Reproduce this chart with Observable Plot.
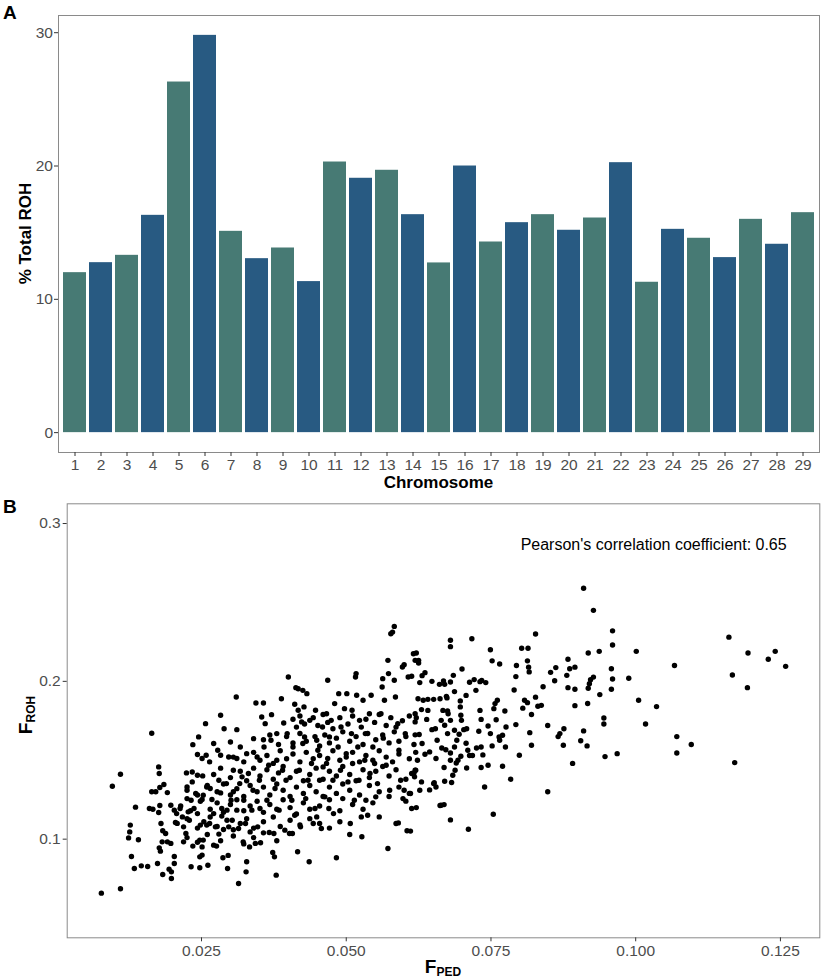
<!DOCTYPE html>
<html><head><meta charset="utf-8">
<script src="https://cdn.jsdelivr.net/npm/d3@7"></script>
<script src="https://cdn.jsdelivr.net/npm/@observablehq/plot@0.6"></script>
<style>
body{margin:0;background:#fff}
#wrap{position:relative;width:823px;height:979px}
#wrap svg{position:absolute;left:0;overflow:visible}
</style>
</head><body><div id="wrap"></div>
<script>
// ---- Panel A data ----
const chromosomes = [1,2,3,4,5,6,7,8,9,10,11,12,13,14,15,16,17,18,19,20,21,22,23,24,25,26,27,28,29];
const pctTotalROH = [12.0,12.75,13.3,16.3,26.3,29.8,15.1,13.05,13.85,11.33,20.3,19.08,19.68,16.35,12.73,20.0,14.3,15.75,16.35,15.18,16.1,20.25,11.28,15.25,14.58,13.13,16.0,14.13,16.5];
const yTicksA = [0,10,20,30];

// ---- Panel B data: [F_PED, F_ROH] ----
const pointsRight = [[0.091,0.259],[0.0927,0.245],[0.0827,0.230],[0.096,0.232],[0.096,0.223],[0.0717,0.227],[0.068,0.226],[0.068,0.222],[0.0749,0.220],[0.0752,0.213],[0.0765,0.211],[0.0803,0.221],[0.0814,0.221],[0.0813,0.213],[0.0815,0.209],[0.0816,0.206],[0.0794,0.210],[0.0793,0.203],[0.079,0.1945],[0.0883,0.214],[0.0895,0.209],[0.0886,0.208],[0.0918,0.218],[0.0937,0.219],[0.1001,0.219],[0.1161,0.228],[0.1194,0.218],[0.1229,0.214],[0.1241,0.219],[0.1259,0.2095],[0.1067,0.210],[0.1167,0.204],[0.1193,0.196],[0.1171,0.1485],[0.1096,0.160],[0.1071,0.165],[0.1071,0.1546],[0.1036,0.184],[0.1017,0.173],[0.1005,0.188],[0.0988,0.202],[0.096,0.2015],[0.0958,0.208],[0.0958,0.195],[0.0938,0.1916],[0.0927,0.2027],[0.0922,0.201],[0.092,0.1985],[0.0918,0.1956],[0.0917,0.186],[0.0945,0.1768],[0.0945,0.173],[0.0947,0.1523],[0.0968,0.1542],[0.091,0.1686],[0.0905,0.1624],[0.0916,0.1591],[0.0891,0.148],[0.0875,0.1595],[0.0866,0.165],[0.0869,0.1669],[0.0876,0.170],[0.0848,0.172],[0.0848,0.130],[0.0895,0.1846],[0.0883,0.196],[0.0895,0.195],[0.0881,0.2038],[0.0853,0.2057],[0.0862,0.2087],[0.086,0.2004],[0.084,0.1966],[0.0827,0.19],[0.0837,0.1848],[0.0831,0.1842],[0.082,0.179],[0.0808,0.188],[0.0813,0.1865],[0.0805,0.183],[0.0793,0.1726],[0.0817,0.1675],[0.082,0.1595],[0.0799,0.1532],[0.0784,0.138],[0.077,0.1462],[0.0754,0.1158],[0.0739,0.1331],[0.0733,0.1454],[0.0745,0.1468],[0.0752,0.1591],[0.0765,0.1627],[0.0764,0.1648],[0.077,0.1658],[0.0776,0.1711],[0.0775,0.1584],[0.0774,0.1812],[0.0761,0.188],[0.0757,0.1859],[0.0755,0.1827],[0.0759,0.1757],[0.0745,0.1717],[0.0749,0.1669],[0.0733,0.1759],[0.0731,0.1816],[0.0729,0.1684],[0.0736,0.1534],[0.0733,0.1584],[0.0725,0.1578],[0.0724,0.1943],[0.0731,0.1998],[0.0741,0.1992],[0.0734,0.2006],[0.0721,0.2011],[0.0713,0.1994],[0.0707,0.1911],[0.070,0.2078],[0.0697,0.1876],[0.0697,0.1838],[0.0698,0.1785],[0.0699,0.1753],[0.0703,0.1694],[0.0708,0.170],[0.0707,0.1608],[0.071,0.1563],[0.0713,0.153],[0.0718,0.153],[0.0708,0.1451],[0.0711,0.1063],[0.068,0.1122],[0.0662,0.1213],[0.0669,0.1219],[0.0651,0.1352],[0.0655,0.1331],[0.0644,0.1312],[0.067,0.1367],[0.0669,0.1454],[0.0684,0.1405],[0.0688,0.1437],[0.069,0.1483],[0.0693,0.150],[0.0698,0.1525],[0.0687,0.1584],[0.0691,0.1627],[0.0695,0.1665],[0.0687,0.169],[0.068,0.1753],[0.0675,0.1812],[0.0676,0.1795],[0.0667,0.1816],[0.0673,0.1905],[0.0662,0.189],[0.0651,0.1886],[0.0641,0.1886],[0.0633,0.188],[0.0624,0.189],[0.063,0.1821],[0.0641,0.1816],[0.0639,0.1759],[0.0648,0.1694],[0.0654,0.170],[0.0664,0.1753],[0.067,0.1722],[0.0675,0.1669],[0.0657,0.1627],[0.0665,0.1578],[0.0672,0.1567],[0.068,0.1546],[0.068,0.150],[0.0655,0.1511],[0.0644,0.1553],[0.0636,0.1538],[0.0631,0.1606],[0.0626,0.1663],[0.0619,0.1661],[0.0621,0.177],[0.0619,0.1743],[0.0623,0.150],[0.0619,0.1437],[0.0613,0.1416],[0.0618,0.1395],[0.063,0.1363],[0.0627,0.131],[0.0621,0.120],[0.0611,0.1289],[0.0611,0.1051],[0.0603,0.1241],[0.060,0.131],[0.0652,0.1357],[0.0664,0.1215],[0.0682,0.1359],[0.0631,0.2036],[0.0636,0.2055],[0.0613,0.2032],[0.0621,0.218],[0.0625,0.2133],[0.0625,0.2116],[0.060,0.2105],[0.0648,0.200],[0.0661,0.1981],[0.0668,0.2002],[0.067,0.1981],[0.068,0.1996],[0.0685,0.2038],[0.0687,0.1935],[0.0674,0.1895],[0.0627,0.1992]];
const pointsLeft = [[0.0077,0.0658],[0.0110,0.0686],[0.0096,0.1335],[0.011,0.1411],[0.0136,0.1203],[0.0127,0.1089],[0.0126,0.1046],[0.0124,0.1008],[0.0141,0.0996],[0.0129,0.089],[0.0134,0.0814],[0.0146,0.0831],[0.0157,0.0827],[0.0164,0.1671],[0.0164,0.130],[0.0171,0.130],[0.0176,0.1458],[0.0177,0.1416],[0.0178,0.1327],[0.0185,0.1346],[0.0191,0.1295],[0.0160,0.1194],[0.0166,0.119],[0.0178,0.1213],[0.0176,0.1169],[0.018,0.1099],[0.0183,0.1053],[0.0188,0.1036],[0.0182,0.0983],[0.0191,0.0983],[0.0197,0.0973],[0.0177,0.0945],[0.0179,0.0924],[0.0174,0.0846],[0.0183,0.0776],[0.0194,0.081],[0.0198,0.0793],[0.0203,0.0846],[0.0203,0.089],[0.0198,0.0751],[0.0197,0.1215],[0.0203,0.1184],[0.0207,0.1162],[0.0205,0.1106],[0.0213,0.1194],[0.0217,0.1141],[0.0219,0.1078],[0.0219,0.0983],[0.0223,0.1036],[0.0224,0.142],[0.0225,0.1331],[0.0225,0.1257],[0.0227,0.1173],[0.0229,0.112],[0.0232,0.1247],[0.0234,0.1363],[0.0235,0.0956],[0.0232,0.0825],[0.0234,0.1426],[0.0235,0.1599],[0.0240,0.1289],[0.0237,0.1194],[0.0243,0.1162],[0.0245,0.1648],[0.0243,0.1536],[0.0243,0.1405],[0.0248,0.1089],[0.0247,0.0994],[0.0247,0.0888],[0.0247,0.0819],[0.0251,0.0899],[0.0251,0.0951],[0.0253,0.0994],[0.0251,0.1251],[0.0253,0.1279],[0.0252,0.1401],[0.0251,0.1511],[0.0257,0.1732],[0.0258,0.1532],[0.0259,0.1331],[0.0259,0.1089],[0.0261,0.0835],[0.0264,0.1099],[0.0264,0.149],[0.0265,0.1321],[0.0268,0.1251],[0.0271,0.1606],[0.0271,0.1162],[0.0271,0.0962],[0.0274,0.1078],[0.0276,0.0956],[0.028,0.1032],[0.0278,0.1563],[0.028,0.1373],[0.0283,0.1785],[0.0283,0.1532],[0.0283,0.1293],[0.0285,0.1194],[0.0285,0.1146],[0.0287,0.0882],[0.0288,0.1061],[0.0289,0.170],[0.0293,0.1352],[0.0294,0.1184],[0.0296,0.0897],[0.0297,0.1078],[0.0297,0.1521],[0.030,0.1616],[0.0295,0.0814],[0.0301,0.1247],[0.0303,0.112],[0.0305,0.130],[0.0305,0.1437],[0.0310,0.1901],[0.0311,0.1694],[0.0311,0.1511],[0.0311,0.1184],[0.0314,0.0719],[0.0314,0.1068],[0.0316,0.1352],[0.0317,0.1584],[0.032,0.1395],[0.0322,0.0983],[0.0323,0.1247],[0.0326,0.1099],[0.0327,0.0793],[0.0328,0.0857],[0.0328,0.1542],[0.0331,0.1416],[0.0333,0.0951],[0.0334,0.1046],[0.0337,0.1184],[0.0339,0.131],[0.0340,0.1637],[0.0343,0.0973],[0.0344,0.1863],[0.0346,0.1521],[0.0347,0.1078],[0.035,0.1373],[0.0351,0.1194],[0.0352,0.0977],[0.0354,0.1774],[0.0357,0.1863],[0.0358,0.1584],[0.0360,0.1732],[0.0363,0.1247],[0.0366,0.1468],[0.0367,0.1042],[0.037,0.1627],[0.0371,0.1789],[0.0373,0.0916],[0.0375,0.1036],[0.0376,0.0888],[0.0377,0.1321],[0.0379,0.0772],[0.038,0.1669],[0.038,0.150],[0.0384,0.1184],[0.0388,0.189],[0.039,0.1437],[0.0392,0.1736],[0.0394,0.1057],[0.0396,0.1373],[0.0398,0.1669],[0.040,0.2028],[0.0402,0.1036],[0.0406,0.1247],[0.0407,0.1036],[0.0408,0.1584],[0.0411,0.1855],[0.0411,0.1152],[0.0413,0.1960],[0.0416,0.092],[0.0417,0.1817],[0.0417,0.1953],[0.0419,0.1437],[0.0421,0.1078],[0.0423,0.1743],[0.0425,0.1943],[0.0425,0.1606],[0.0427,0.1838],[0.0428,0.1648],[0.0430,0.1257],[0.0432,0.1922],[0.0434,0.1373],[0.0436,0.0857],[0.0437,0.1753],[0.0440,0.1479],[0.0443,0.1099],[0.0446,0.1194],[0.0447,0.1817],[0.0449,0.1627],[0.0449,0.1141],[0.0451,0.1563],[0.0454,0.1373],[0.0457,0.1068],[0.0459,0.1711],[0.046,0.1458],[0.0463,0.1268],[0.0466,0.1795],[0.0468,0.2007],[0.0468,0.1511],[0.047,0.1194],[0.0471,0.1648],[0.0474,0.1753],[0.0477,0.1373],[0.0478,0.1162],[0.0480,0.1859],[0.0483,0.0882],[0.0486,0.1584],[0.0487,0.1922],[0.0489,0.111],[0.049,0.1437],[0.0491,0.1711],[0.0494,0.1257],[0.0497,0.1827],[0.050,0.1542],[0.0501,0.1922],[0.0503,0.1363],[0.0506,0.103],[0.0507,0.1099],[0.0509,0.1669],[0.051,0.1817],[0.0511,0.1479],[0.0514,0.1247],[0.0516,0.2028],[0.0517,0.2049],[0.0518,0.1912],[0.052,0.1584],[0.0522,0.1373],[0.0523,0.1753],[0.0526,0.1141],[0.0527,0.1015],[0.0529,0.188],[0.0532,0.150],[0.0533,0.1669],[0.0534,0.1247],[0.0537,0.1152],[0.054,0.1795],[0.0541,0.1416],[0.0543,0.1912],[0.0546,0.1584],[0.0549,0.1479],[0.0551,0.1268],[0.0554,0.1352],[0.0557,0.1141],[0.056,0.1795],[0.0562,0.1964],[0.0563,0.2017],[0.0564,0.164],[0.0566,0.188],[0.0569,0.1468],[0.0572,0.2133],[0.0572,0.0941],[0.0573,0.2049],[0.0575,0.131],[0.0577,0.2302],[0.058,0.2312],[0.0583,0.2348],[0.0583,0.2007],[0.0585,0.1901],[0.0586,0.1099],[0.0589,0.1732],[0.0590,0.1103],[0.0591,0.1563],[0.0594,0.1373],[0.0597,0.2091],[0.0598,0.1257],[0.0602,0.1669],[0.0605,0.1053],[0.0607,0.2028],[0.0613,0.1194],[0.0616,0.2175],[0.0619,0.2133],[0.0619,0.1795],[0.062,0.1437]];
const pointsCore = [[0.0408,0.176],[0.0414,0.171],[0.0420,0.178],[0.0428,0.173],[0.0443,0.177],[0.0451,0.172],[0.0460,0.179],[0.0468,0.174],[0.0477,0.170],[0.0489,0.177],[0.0503,0.173],[0.0511,0.178],[0.0526,0.171],[0.0534,0.176],[0.0549,0.174],[0.0557,0.179],[0.0569,0.172],[0.0577,0.177],[0.0586,0.171],[0.0597,0.175],[0.0609,0.178],
[0.0357,0.163],[0.0368,0.166],[0.0383,0.160],[0.0397,0.165],[0.0408,0.161],[0.0420,0.167],[0.0431,0.162],[0.0446,0.165],[0.0454,0.159],[0.0463,0.166],[0.0471,0.161],[0.0483,0.164],[0.0494,0.168],[0.0506,0.162],[0.0517,0.165],[0.0529,0.160],[0.0537,0.167],[0.0551,0.163],[0.0563,0.166],[0.0574,0.161],[0.0583,0.168],[0.0591,0.162],[0.0603,0.165],[0.0617,0.160],
[0.0305,0.152],[0.0323,0.149],[0.0340,0.155],[0.0351,0.150],[0.0363,0.153],[0.0374,0.148],[0.0386,0.156],[0.0397,0.151],[0.0408,0.154],[0.0420,0.149],[0.0431,0.155],[0.0443,0.151],[0.0454,0.153],[0.0466,0.148],[0.0477,0.156],[0.0489,0.150],[0.0500,0.152],[0.0511,0.155],[0.0523,0.149],[0.0534,0.153],[0.0546,0.150],[0.0557,0.156],[0.0569,0.152],[0.0580,0.149],[0.0591,0.154],[0.0609,0.151],[0.0620,0.155],
[0.0271,0.141],[0.0283,0.145],[0.0300,0.139],[0.0317,0.143],[0.0328,0.137],[0.0340,0.145],[0.0351,0.140],[0.0363,0.144],[0.0374,0.138],[0.0383,0.142],[0.0391,0.146],[0.0403,0.139],[0.0414,0.143],[0.0426,0.137],[0.0437,0.141],[0.0448,0.145],[0.0460,0.138],[0.0471,0.143],[0.0483,0.140],[0.0494,0.146],[0.0506,0.141],[0.0517,0.137],[0.0529,0.144],[0.0540,0.139],[0.0551,0.143],[0.0563,0.146],[0.0574,0.140],[0.0586,0.144],[0.0603,0.138],[0.0617,0.142],
[0.0225,0.131],[0.0243,0.128],[0.0260,0.134],[0.0277,0.130],[0.0288,0.135],[0.0300,0.128],[0.0311,0.132],[0.0323,0.127],[0.0334,0.134],[0.0346,0.130],[0.0357,0.133],[0.0368,0.128],[0.0380,0.135],[0.0391,0.131],[0.0403,0.127],[0.0414,0.133],[0.0426,0.129],[0.0437,0.134],[0.0448,0.130],[0.0460,0.127],[0.0471,0.133],[0.0483,0.129],[0.0494,0.135],[0.0506,0.131],[0.0523,0.128],[0.0540,0.134],[0.0557,0.130],[0.0574,0.127],[0.0591,0.133],[0.0609,0.129],
[0.0214,0.121],[0.0231,0.118],[0.0248,0.124],[0.0265,0.119],[0.0277,0.123],[0.0288,0.117],[0.0300,0.122],[0.0311,0.125],[0.0323,0.118],[0.0334,0.121],[0.0346,0.124],[0.0357,0.117],[0.0368,0.122],[0.0380,0.119],[0.0391,0.125],[0.0403,0.120],[0.0414,0.116],[0.0426,0.123],[0.0437,0.119],[0.0454,0.121],[0.0471,0.125],[0.0489,0.118],[0.0511,0.122],[0.0529,0.119],[0.0546,0.123],
[0.0208,0.110],[0.0225,0.113],[0.0243,0.107],[0.0254,0.111],[0.0265,0.114],[0.0277,0.108],[0.0294,0.112],[0.0305,0.106],[0.0317,0.110],[0.0328,0.113],[0.0340,0.107],[0.0357,0.111],[0.0374,0.114],[0.0386,0.108],[0.0403,0.112],[0.0420,0.109],[0.0437,0.113],[0.0454,0.110],[0.0471,0.107],
[0.0225,0.101],[0.0243,0.098],[0.0260,0.103],[0.0283,0.099],[0.0305,0.102],[0.0323,0.097],[0.0340,0.101],[0.0357,0.104],[0.0380,0.099]];
const xTicksB = [0.025,0.050,0.075,0.100,0.125];
const yTicksB = [0.1,0.2,0.3];
const annotation = [{x:0.1031, y:0.2863, text:"Pearson's correlation coefficient: 0.65"}];

// ---- styling ----
const FONT = "'Liberation Sans', Arial, Helvetica, sans-serif";
const GREEN = "#477a74", BLUE = "#285a82", FRAME = "#8a8a8a", TICKMARK = "#333333", TICKLAB = "#4d4d4d";
const TICKFS = 15.5;
const blank = () => "";

const wrap = document.getElementById("wrap");

// ---- Panel A ----
const chromData = chromosomes.map((c, i) => ({chr: c, pct: pctTotalROH[i], col: c % 2 ? GREEN : BLUE}));
const A = Plot.plot({
  width: 823, height: 492,
  marginLeft: 58, marginRight: 4, marginTop: 15, marginBottom: 40,
  style: {fontFamily: FONT, background: "white", overflow: "visible"},
  x: {type: "band", domain: chromosomes, paddingInner: 0.1, paddingOuter: 0.15, label: null},
  y: {domain: [-1.49, 31.29], label: null},
  color: {type: "identity"},
  marks: [
    Plot.barY(chromData, {x: "chr", y: "pct", fill: "col"}),
    Plot.frame({stroke: FRAME}),
    Plot.axisX({tickSize: 4, tickFormat: blank, label: null, stroke: TICKMARK}),
    Plot.axisY({ticks: yTicksA, tickSize: 4, tickFormat: blank, label: null, stroke: TICKMARK}),
    // tick labels, positioned by the same scales
    Plot.text(chromosomes, {x: d => d, frameAnchor: "bottom", lineAnchor: "top", dy: 6, text: d => String(d),
      fontSize: TICKFS, fill: TICKLAB, fontFamily: FONT}),
    Plot.text(yTicksA, {y: d => d, frameAnchor: "left", dx: -5.5, textAnchor: "end", text: d => String(d),
      fontSize: TICKFS, fill: TICKLAB, fontFamily: FONT})
  ]
});
A.style.top = "0px";
wrap.appendChild(A);
const sa = d3.select(A);
sa.append("text").attr("x", 3).attr("y", 19).attr("text-anchor", "start").attr("font-size", 19).attr("font-weight", "bold")
  .attr("fill", "black").attr("font-family", FONT).text("A");
sa.append("text").attr("transform", "translate(31,233.5) rotate(-90)").attr("text-anchor", "middle")
  .attr("font-size", 17).attr("font-weight", "bold").attr("fill", "black").attr("font-family", FONT).text("% Total ROH");
sa.append("text").attr("x", 438.5).attr("y", 488).attr("text-anchor", "middle")
  .attr("font-size", 17).attr("font-weight", "bold").attr("fill", "black").attr("font-family", FONT).text("Chromosome");

// ---- Panel B ----
const points = pointsLeft.concat(pointsCore, pointsRight);
const fmtX = d3.format(".3f"), fmtY = d3.format(".1f");
const B = Plot.plot({
  width: 823, height: 487,
  marginLeft: 66.7, marginRight: 3.7, marginTop: 11.3, marginBottom: 41.7,
  style: {fontFamily: FONT, background: "white", overflow: "visible"},
  x: {domain: [0.0018, 0.1318], label: null},
  y: {domain: [0.0375, 0.3125], label: null},
  marks: [
    Plot.frame({stroke: FRAME}),
    Plot.dot(points, {x: d => d[0], y: d => d[1], r: 2.7, fill: "black", stroke: null}),
    Plot.text(annotation, {x: "x", y: "y", text: "text", fill: "black", fontSize: 16, textAnchor: "middle", fontFamily: FONT}),
    Plot.axisX({ticks: xTicksB, tickSize: 4, tickFormat: blank, label: null, stroke: TICKMARK}),
    Plot.axisY({ticks: yTicksB, tickSize: 4, tickFormat: blank, label: null, stroke: TICKMARK}),
    Plot.text(xTicksB, {x: d => d, frameAnchor: "bottom", lineAnchor: "top", dy: 7.5, text: d => fmtX(d),
      fontSize: TICKFS, fill: TICKLAB, fontFamily: FONT}),
    Plot.text(yTicksB, {y: d => d, frameAnchor: "left", dx: -6.5, textAnchor: "end", text: d => fmtY(d),
      fontSize: TICKFS, fill: TICKLAB, fontFamily: FONT})
  ]
});
B.style.top = "492px";
wrap.appendChild(B);
const sb = d3.select(B);
sb.append("text").attr("x", 3).attr("y", 21).attr("text-anchor", "start").attr("font-size", 19).attr("font-weight", "bold")
  .attr("fill", "black").attr("font-family", FONT).text("B");
const yl = sb.append("text").attr("transform", "translate(32,223) rotate(-90)").attr("text-anchor", "middle")
  .attr("font-weight", "bold").attr("fill", "black").attr("font-family", FONT);
yl.append("tspan").attr("font-size", 19).text("F");
yl.append("tspan").attr("font-size", 12).attr("dy", 3).text("ROH");
const xl = sb.append("text").attr("x", 443).attr("y", 481).attr("text-anchor", "middle")
  .attr("font-weight", "bold").attr("fill", "black").attr("font-family", FONT);
xl.append("tspan").attr("font-size", 19).text("F");
xl.append("tspan").attr("font-size", 12).attr("dy", 3).text("PED");
</script>
</body></html>
